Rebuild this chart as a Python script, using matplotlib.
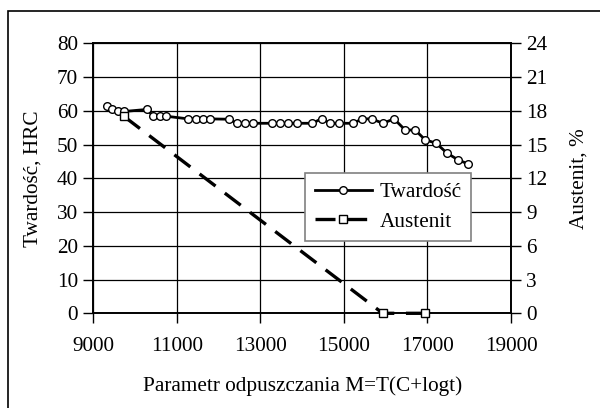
import matplotlib
matplotlib.use("Agg")
import matplotlib.pyplot as plt
from matplotlib.patches import Rectangle

plt.rcParams['font.family'] = ['Liberation Serif', 'DejaVu Serif']

# Data
hard_x = [9320, 9455, 9584, 9735, 10286, 10437, 10598, 10741, 11276, 11460, 11635, 11796,
          12258, 12435, 12634, 12832, 13273, 13472, 13671, 13871, 14246, 14470, 14669, 14892,
          15213, 15443, 15668, 15932, 16202, 16466, 16706, 16945, 17209, 17464, 17728, 17982]
hard_y = [61.5, 60.4, 60.0, 59.8, 60.4, 58.4, 58.4, 58.4, 57.6, 57.6, 57.6, 57.6,
          57.5, 56.3, 56.3, 56.3, 56.3, 56.3, 56.3, 56.3, 56.3, 57.7, 56.3, 56.3,
          56.3, 57.6, 57.6, 56.3, 57.6, 54.3, 54.3, 51.4, 50.4, 47.5, 45.5, 44.2]
aust_x = [9735, 15930, 16950]
aust_y = [17.5, 0, 0]

xticks = [9000, 11000, 13000, 15000, 17000, 19000]
yticks_left = [0, 10, 20, 30, 40, 50, 60, 70, 80]
yticks_right = [0, 3, 6, 9, 12, 15, 18, 21, 24]

fig = plt.figure(figsize=(6.0, 4.08), dpi=100)
W, H = 600, 408
l, r, t, b = 93.3, 511, 43.3, 313.3
ax = fig.add_axes([l / W, 1 - b / H, (r - l) / W, (b - t) / H])
ax2 = ax.twinx()

fs = 15.3

ax.set_xlim(9000, 19000)
ax.set_ylim(0, 80)
ax2.set_ylim(0, 24)
ax.set_xticks(xticks)
ax.set_yticks(yticks_left)
ax2.set_yticks(yticks_right)
ax.grid(True, color='black', linewidth=0.9)
ax.set_axisbelow(True)

for a in (ax, ax2):
    for s in a.spines.values():
        s.set_linewidth(1.2)
        s.set_color('black')
    a.tick_params(direction='out', length=7, width=1.0, labelsize=fs, colors='black', pad=4)
ax.tick_params(axis='x', pad=10)

l1, = ax.plot(hard_x, hard_y, color='black', linewidth=2, marker='o', markersize=5.5,
              markerfacecolor='white', markeredgecolor='black', markeredgewidth=1.0,
              label='Twardość', zorder=3)
l2, = ax2.plot(aust_x, aust_y, color='black', linewidth=2.4, linestyle=(0, (6, 3.5)),
               marker='s', markersize=5.5, markerfacecolor='white', markeredgecolor='black',
               markeredgewidth=1.0, label='Austenit', zorder=3, clip_on=False)

ax.set_ylabel('Twardość, HRC', fontsize=fs, labelpad=10)
ax2.set_ylabel('Austenit, %', fontsize=fs, labelpad=16)
ax.set_xlabel('Parametr odpuszczania M=T(C+logt)', fontsize=fs, labelpad=15)

leg = fig.legend(handles=[l1, l2], loc='upper left',
                 bbox_to_anchor=(305 / W, 1 - 172.7 / H), borderaxespad=0,
                 fontsize=fs, frameon=True, fancybox=False, handlelength=2.7,
                 handletextpad=0.35, borderpad=0.45, labelspacing=0.45, framealpha=1)
leg.get_frame().set_edgecolor('#808080')
leg.get_frame().set_linewidth(1.2)

fig.patches.append(Rectangle((8 / W, -0.1), 1.2, 1 - 11 / H + 0.1, transform=fig.transFigure,
                             fill=False, edgecolor='black', linewidth=1.2))

fig.savefig('out.png', dpi=100)
